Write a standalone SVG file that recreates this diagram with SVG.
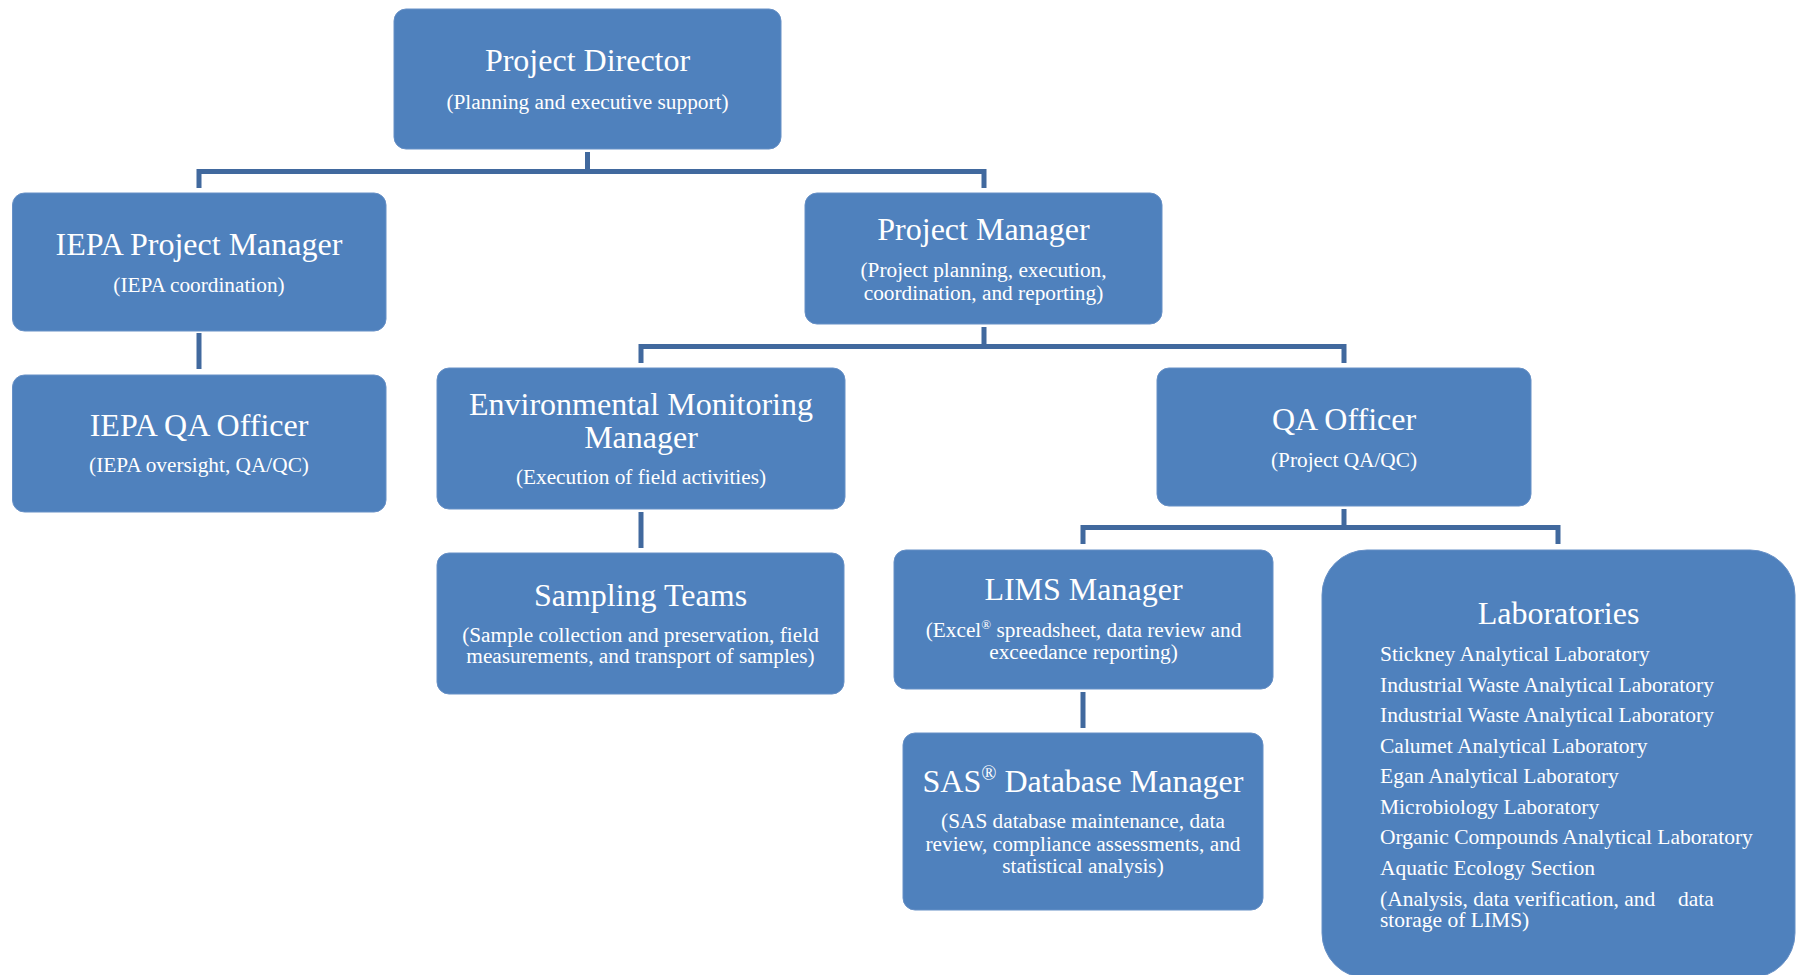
<svg xmlns="http://www.w3.org/2000/svg" width="1796" height="975" viewBox="0 0 1796 975">
<style>
.box{fill:#4F81BD;stroke:#6790C6;stroke-width:1}
.t{font-family:"Liberation Serif","Times New Roman",serif;fill:#FFFFFF;text-anchor:middle}
.h{font-size:32px}
.s{font-size:21.3px}
.l{font-family:"Liberation Serif","Times New Roman",serif;fill:#FFFFFF;font-size:21.5px}
.c{fill:none;stroke:#41699E;stroke-width:5}
</style>
<rect width="1796" height="975" fill="#FFFFFF"/>
<g id="connectors">
<path class="c" d="M199 188 V171.5 H984 V188 M587.5 152 V171.5"/>
<path class="c" d="M199 333 V369"/>
<path class="c" d="M641 363 V346.5 H1344 V363 M984 327 V346.5"/>
<path class="c" d="M641 512 V548"/>
<path class="c" d="M1083 544 V527.5 H1558 V544 M1344 509 V527.5"/>
<path class="c" d="M1083 692 V728"/>
</g>
<g id="project-director">
<rect class="box" x="394" y="9" width="387" height="140" rx="12"/>
<text class="t h" x="587.5" y="71">Project Director</text>
<text class="t s" x="587.5" y="109">(Planning and executive support)</text>
</g>
<g id="iepa-project-manager">
<rect class="box" x="12.5" y="193" width="373.5" height="138" rx="12"/>
<text class="t h" x="199" y="255">IEPA Project Manager</text>
<text class="t s" x="199" y="292">(IEPA coordination)</text>
</g>
<g id="iepa-qa-officer">
<rect class="box" x="12.5" y="375" width="373.5" height="137" rx="12"/>
<text class="t h" x="199" y="436">IEPA QA Officer</text>
<text class="t s" x="199" y="472">(IEPA oversight, QA/QC)</text>
</g>
<g id="project-manager">
<rect class="box" x="805" y="193" width="357" height="131" rx="12"/>
<text class="t h" x="983.5" y="240">Project Manager</text>
<text class="t s" x="983.5" y="277">(Project planning, execution,</text>
<text class="t s" x="983.5" y="300">coordination, and reporting)</text>
</g>
<g id="environmental-monitoring-manager">
<rect class="box" x="437" y="368" width="408" height="141" rx="12"/>
<text class="t h" x="641" y="415">Environmental Monitoring</text>
<text class="t h" x="641" y="448">Manager</text>
<text class="t s" x="641" y="484">(Execution of field activities)</text>
</g>
<g id="qa-officer">
<rect class="box" x="1157" y="368" width="374" height="138" rx="12"/>
<text class="t h" x="1344" y="430">QA Officer</text>
<text class="t s" x="1344" y="467">(Project QA/QC)</text>
</g>
<g id="sampling-teams">
<rect class="box" x="437" y="553" width="407" height="141" rx="12"/>
<text class="t h" x="640.5" y="606">Sampling Teams</text>
<text class="t s" x="640.5" y="642">(Sample collection and preservation, field</text>
<text class="t s" x="640.5" y="663">measurements, and transport of samples)</text>
</g>
<g id="lims-manager">
<rect class="box" x="894" y="550" width="379" height="139" rx="12"/>
<text class="t h" x="1083.5" y="600">LIMS Manager</text>
<text class="t s" x="1083.5" y="637">(Excel<tspan font-size="13" dy="-8">®</tspan><tspan dy="8"> spreadsheet, data review and</tspan></text>
<text class="t s" x="1083.5" y="659">exceedance reporting)</text>
</g>
<g id="sas-database-manager">
<rect class="box" x="903" y="733" width="360" height="177" rx="12"/>
<text class="t h" x="1083" y="792">SAS<tspan font-size="20" dy="-12">®</tspan><tspan dy="12"> Database Manager</tspan></text>
<text class="t s" x="1083" y="828">(SAS database maintenance, data</text>
<text class="t s" x="1083" y="851">review, compliance assessments, and</text>
<text class="t s" x="1083" y="873">statistical analysis)</text>
</g>
<g id="laboratories">
<rect class="box" x="1322" y="550" width="473" height="428" rx="45"/>
<text class="t h" x="1558.5" y="624">Laboratories</text>
<text class="l" x="1380" y="661">Stickney Analytical Laboratory</text>
<text class="l" x="1380" y="692">Industrial Waste Analytical Laboratory</text>
<text class="l" x="1380" y="722">Industrial Waste Analytical Laboratory</text>
<text class="l" x="1380" y="753">Calumet Analytical Laboratory</text>
<text class="l" x="1380" y="783">Egan Analytical Laboratory</text>
<text class="l" x="1380" y="814">Microbiology Laboratory</text>
<text class="l" x="1380" y="844">Organic Compounds Analytical Laboratory</text>
<text class="l" x="1380" y="875">Aquatic Ecology Section</text>
<text class="l" x="1380" y="906">(Analysis, data verification, and <tspan x="1678">data</tspan></text>
<text class="l" x="1380" y="927">storage of LIMS)</text>
</g>
</svg>
